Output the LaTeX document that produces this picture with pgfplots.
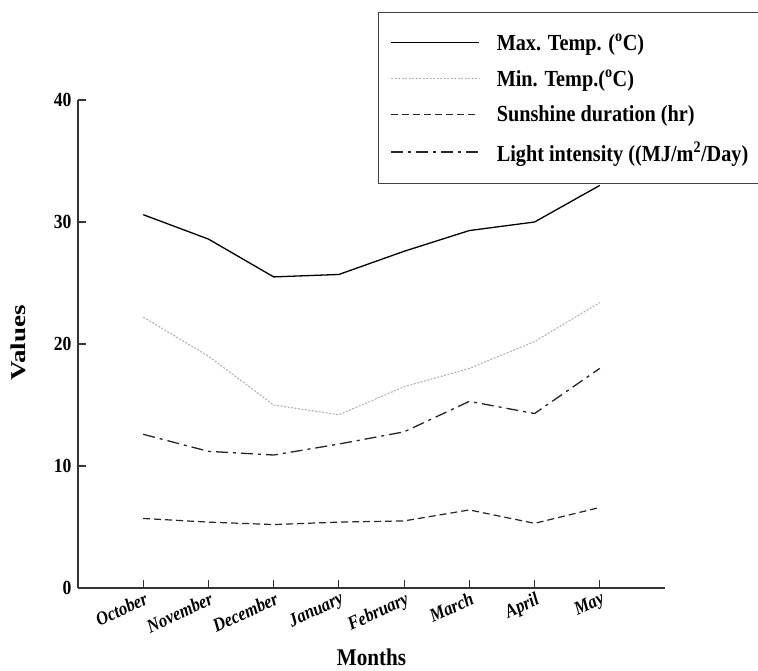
\documentclass[border=0pt]{standalone}
\usepackage{fontspec}
\setmainfont[FakeStretch=0.88]{Liberation Serif}
\newfontfamily\plainserif{Liberation Serif}
\usepackage{pgfplots}
\pgfplotsset{compat=1.18}

\begin{document}
\begin{tikzpicture}
\begin{axis}[
    at={(0pt,0pt)}, anchor=south west,
    width=587pt, height=488pt, scale only axis,
    xmin=-1, xmax=8, ymin=0, ymax=40,
    axis x line=bottom, axis y line=left,
    axis line style={-, line width=1.6pt, black!80},
    xtick={0,...,7},
    xticklabels={October,November,December,January,February,March,April,May},
    ytick={0,10,20,30,40},
    tick align=inside, major tick length=8pt,
    tick style={line width=1.2pt, black!80},
    /pgf/number format/assume math mode=true,
    yticklabel style={font=\fontsize{20}{22}\selectfont\bfseries, xshift=-3pt},
    xticklabel style={font=\fontsize{19}{21}\selectfont\bfseries\itshape, rotate=25, anchor=north east, yshift=-2pt, inner sep=1pt},
    xlabel={Months},
    ylabel={\scalebox{1}[0.78]{\plainserif\bfseries Values}},
    xlabel style={font=\fontsize{24}{26}\selectfont\bfseries, at={(axis description cs:0.5,-0.142)}, anchor=center},
    ylabel style={font=\fontsize{27}{29}\selectfont, at={(axis description cs:-0.102,0.502)}, anchor=center},
    legend style={at={(axis description cs:0.511,1.180)}, anchor=north west,
        draw=black!75, line width=1pt, fill=white,
        font=\fontsize{23}{25}\selectfont\bfseries,
        row sep=14pt, inner xsep=12pt, inner ysep=19pt,
        /tikz/every odd column/.append style={column sep=15pt}},
    legend cell align=left,
    legend image code/.code={\draw[#1] (0pt,0pt) -- (88pt,0pt);},
]
% Max. Temp.
\addplot[black, line width=1.3pt] coordinates {
    (0,30.6) (1,28.6) (2,25.5) (3,25.7) (4,27.6) (5,29.3) (6,30.0) (7,33.0)};
% Min. Temp.
\addplot[black!30, line width=1.1pt, dash pattern=on 2pt off 1.5pt] coordinates {
    (0,22.2) (1,19.0) (2,15.0) (3,14.2) (4,16.5) (5,18.0) (6,20.2) (7,23.4)};
% Sunshine duration
\addplot[black!85, line width=1.2pt, dash pattern=on 7pt off 4pt] coordinates {
    (0,5.7) (1,5.4) (2,5.2) (3,5.4) (4,5.5) (5,6.4) (6,5.3) (7,6.6)};
% Light intensity
\addplot[black!85, line width=1.3pt, dash pattern=on 12pt off 5pt on 3pt off 5pt] coordinates {
    (0,12.6) (1,11.2) (2,10.9) (3,11.8) (4,12.8) (5,15.3) (6,14.3) (7,18.0)};
\legend{Max. Temp. (\textsuperscript{o}C),
        Min. Temp.(\textsuperscript{o}C),
        Sunshine duration (hr),
        Light intensity ((MJ/m\textsuperscript{2}/Day)}
\end{axis}
\pgfresetboundingbox
\path (-78pt,-82pt) rectangle (680pt,588pt);
\end{tikzpicture}
\end{document}
